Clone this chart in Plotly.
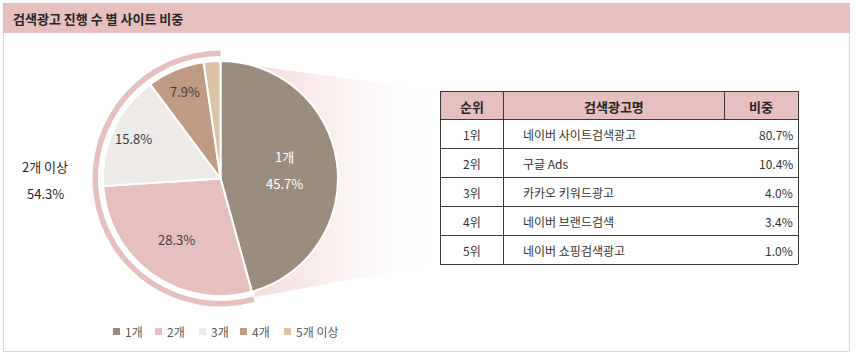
import math
import plotly.graph_objects as go

# ---------------- data ----------------
pie_labels = ["1개", "2개", "3개", "4개", "5개 이상"]
pie_values = [45.7, 28.3, 15.8, 7.9, 2.3]
pie_colors = ["#9b8d7d", "#e6bfbf", "#eeebe8", "#bf9b84", "#dbc3a8"]
pie_text_colors = ["#ffffff", "#404040", "#404040", "#404040", "#404040"]
pie_label_radius = [0.55, 0.64, 0.82, 0.80, 0.0]   # label placement (fraction of radius)
pie_show_text = [True, True, True, True, False]

group_label = "2개 이상"
group_value = 54.3

table_header = ["순위", "검색광고명", "비중"]
table_rank = ["1위", "2위", "3위", "4위", "5위"]
table_name = ["네이버 사이트검색광고", "구글 Ads", "카카오 키워드광고", "네이버 브랜드검색", "네이버 쇼핑검색광고"]
table_share = [80.7, 10.4, 4.0, 3.4, 1.0]

title_text = "검색광고 진행 수 별 사이트 비중"

# ---------------- layout constants ----------------
W, H = 856, 357
FONT = "Noto Sans CJK KR"
PINK = "#e6bfbf"
cx, cy, r = 220.5, 178.5, 117.5
arc_r_out, arc_r_in = 128.0, 122.5


def px_dom_x(a, b):
    return [a / W, b / W]


def px_dom_y(top, bottom):
    return [1 - bottom / H, 1 - top / H]


fig = go.Figure()

# gradient "zoom" funnel behind pie
tab_x0, tab_x1 = 440, 798
tab_top, head_h, row_h = 91, 28, 29
tab_bottom = tab_top + head_h + row_h * len(table_rank)

fig.add_trace(go.Scatter(
    x=[221, tab_x0 - 2, tab_x0 - 2, 255, 221],
    y=[61, tab_top, tab_bottom, 297, 61],
    mode="lines", line=dict(width=0), fill="toself",
    fillgradient=dict(type="horizontal",
                      colorscale=[[0, "rgba(238,205,205,0.85)"],
                                  [0.5, "rgba(246,228,228,0.6)"],
                                  [1, "rgba(255,255,255,0.1)"]]),
    hoverinfo="skip", showlegend=False,
))

# outer arc for "2개 이상"
fig.add_trace(go.Pie(
    values=[pie_values[0], group_value],
    marker=dict(colors=["rgba(0,0,0,0)", PINK], line=dict(width=0)),
    sort=False, direction="clockwise", rotation=0,
    hole=arc_r_in / arc_r_out, textinfo="none", hoverinfo="skip",
    showlegend=False,
    domain=dict(x=px_dom_x(cx - arc_r_out, cx + arc_r_out),
                y=px_dom_y(cy - arc_r_out, cy + arc_r_out)),
))

# main pie
fig.add_trace(go.Pie(
    labels=pie_labels, values=pie_values,
    marker=dict(colors=pie_colors, line=dict(color="white", width=2)),
    sort=False, direction="clockwise", rotation=0,
    textinfo="none",
    hoverinfo="label+percent", showlegend=False,
    domain=dict(x=px_dom_x(cx - r, cx + r), y=px_dom_y(cy - r, cy + r)),
))

shapes = []
annotations = []

# pie labels placed at slice mid-angles
total = sum(pie_values)
cum = 0.0
for i, v in enumerate(pie_values):
    mid = (cum + v / 2) / total * 2 * math.pi
    cum += v
    if not pie_show_text[i]:
        continue
    lx = cx + pie_label_radius[i] * r * math.sin(mid)
    ly = cy - pie_label_radius[i] * r * math.cos(mid)
    fnt = dict(family=FONT, size=13, color=pie_text_colors[i])
    if i == 0:
        annotations.append(dict(x=lx, y=ly - 13, xref="x", yref="y", text=pie_labels[i],
                                showarrow=False, font=fnt))
        annotations.append(dict(x=lx, y=ly + 14, xref="x", yref="y", text=f"{v}%",
                                showarrow=False, font=fnt))
    else:
        annotations.append(dict(x=lx, y=ly, xref="x", yref="y", text=f"{v}%",
                                showarrow=False, font=fnt))

# frame + title band
shapes.append(dict(type="rect", xref="x", yref="y", x0=3.5, x1=849.5, y0=3.5, y1=351.5,
                   line=dict(color="#d6d6d6", width=1), fillcolor="rgba(0,0,0,0)", layer="below"))
shapes.append(dict(type="rect", xref="x", yref="y", x0=3, x1=850, y0=3, y1=33,
                   line=dict(width=0), fillcolor=PINK, layer="below"))
annotations.append(dict(x=11, y=18, xref="x", yref="y", text=f"<b>{title_text}</b>",
                        showarrow=False, xanchor="left", yanchor="middle",
                        font=dict(family=FONT, size=13, color="#262626")))

# group label
annotations.append(dict(x=45, y=166, xref="x", yref="y", text=group_label, showarrow=False,
                        font=dict(family=FONT, size=13, color="#262626")))
annotations.append(dict(x=45, y=193, xref="x", yref="y", text=f"{group_value}%", showarrow=False,
                        font=dict(family=FONT, size=13, color="#262626")))

# table
col_x = [tab_x0, 503, 724, tab_x1]
shapes.append(dict(type="rect", xref="x", yref="y", x0=tab_x0, x1=tab_x1, y0=tab_top, y1=tab_top + head_h,
                   line=dict(width=0), fillcolor=PINK, layer="above"))
LC = "#3a3a3a"
for i in range(len(table_rank) + 2):
    yy = tab_top if i == 0 else tab_top + head_h + row_h * (i - 1)
    shapes.append(dict(type="line", xref="x", yref="y", x0=tab_x0, x1=tab_x1, y0=yy + 0.5, y1=yy + 0.5,
                       line=dict(color=LC, width=1), layer="above"))
for xx, y1 in [(tab_x0, tab_bottom), (503, tab_bottom), (724, tab_top + head_h), (tab_x1, tab_bottom)]:
    shapes.append(dict(type="line", xref="x", yref="y", x0=xx + 0.5, x1=xx + 0.5, y0=tab_top, y1=y1,
                       line=dict(color=LC, width=1), layer="above"))

hc = [(col_x[0] + col_x[1]) / 2, (col_x[1] + col_x[2]) / 2, (col_x[2] + col_x[3]) / 2]
for h, xx in zip(table_header, hc):
    annotations.append(dict(x=xx, y=tab_top + head_h / 2 + 1, xref="x", yref="y", text=f"<b>{h}</b>",
                            showarrow=False, font=dict(family=FONT, size=13, color="#262626")))
for i, (rk, nm, sh) in enumerate(zip(table_rank, table_name, table_share)):
    yy = tab_top + head_h + row_h * i + row_h / 2 + 1
    annotations.append(dict(x=hc[0], y=yy, xref="x", yref="y", text=rk, showarrow=False,
                            font=dict(family=FONT, size=12, color="#333333")))
    annotations.append(dict(x=521, y=yy, xref="x", yref="y", text=nm, showarrow=False, xanchor="left",
                            font=dict(family=FONT, size=12, color="#333333")))
    annotations.append(dict(x=tab_x1 - 3, y=yy, xref="x", yref="y", text=f"{sh:.1f}%", showarrow=False,
                            xanchor="right", font=dict(family=FONT, size=12, color="#333333")))

# legend
leg_x = [113, 155, 199, 240, 284]
for lab, col, lx in zip(pie_labels, pie_colors, leg_x):
    shapes.append(dict(type="rect", xref="x", yref="y", x0=lx, x1=lx + 7, y0=328, y1=335,
                       line=dict(width=0), fillcolor=col, layer="above"))
    annotations.append(dict(x=lx + 10, y=331.5, xref="x", yref="y", text=lab, showarrow=False,
                            xanchor="left", font=dict(family=FONT, size=12, color="#595959")))

fig.update_layout(
    width=W, height=H, margin=dict(l=0, r=0, t=0, b=0),
    paper_bgcolor="white", plot_bgcolor="rgba(0,0,0,0)",
    xaxis=dict(range=[0, W], visible=False, fixedrange=True, domain=[0, 1]),
    yaxis=dict(range=[H, 0], visible=False, fixedrange=True, domain=[0, 1]),
    shapes=shapes, annotations=annotations, showlegend=False,
)

fig.write_html("out.html", config={"displayModeBar": False})
